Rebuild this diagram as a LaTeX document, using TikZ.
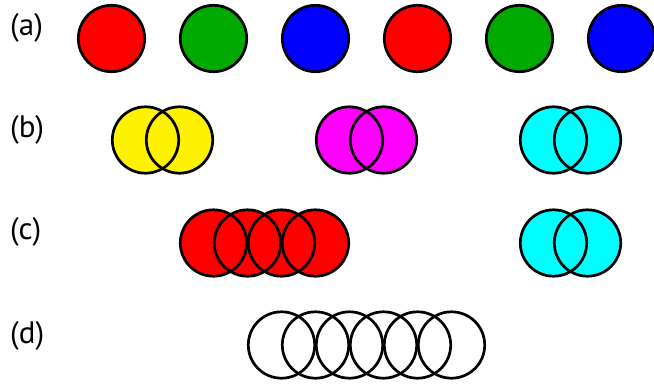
\documentclass[tikz,border=0pt]{standalone}
\usepackage{fontspec}
\setsansfont{PT Sans}
\usetikzlibrary{positioning}
\definecolor{discgreen}{RGB}{0,170,0}
\definecolor{discmagenta}{RGB}{255,0,255}
\definecolor{disccyan}{RGB}{0,255,255}

\begin{document}
\begin{tikzpicture}[
  x=1pt,y=-1pt,
  font=\sffamily\fontsize{31}{36}\selectfont,
  disc/.style={circle,inner sep=0pt,outer sep=0pt,minimum size=66.4pt},
  ring/.style={draw=black,line width=2.7pt},
  lbl/.style={anchor=west,inner sep=0pt},
  node distance=35.6pt,
]
\useasboundingbox (0,0) rectangle (654,389);
% row (a): single discs
\node[lbl] (la) at (10,28) {(a)};
\node[disc,fill=red] (a1) at (111.5,38.5) {};
\node[disc,fill=discgreen,right=of a1] (a2) {};
\node[disc,fill=blue,right=of a2] (a3) {};
\node[disc,fill=red,right=of a3] (a4) {};
\node[disc,fill=discgreen,right=of a4] (a5) {};
\node[disc,fill=blue,right=of a5] (a6) {};
% row (b): overlapping pairs
\node[lbl] (lb) at (10,130) {(b)};
\node[disc,fill=yellow] (b1) at (145.5,140) {};
\node[disc,fill=yellow,right=-32.4pt of b1] (b2) {};
\node[disc,fill=discmagenta] (b3) at (349.5,140) {};
\node[disc,fill=discmagenta,right=-32.4pt of b3] (b4) {};
\node[disc,fill=disccyan] (b5) at (553.5,140) {};
\node[disc,fill=disccyan,right=-32.4pt of b5] (b6) {};
% row (c)
\node[lbl] (lc) at (10,232) {(c)};
\node[disc,fill=red] (c1) at (213.5,243) {};
\node[disc,fill=red,right=-32.4pt of c1] (c2) {};
\node[disc,fill=red,right=-32.4pt of c2] (c3) {};
\node[disc,fill=red,right=-32.4pt of c3] (c4) {};
\node[disc,fill=disccyan] (c5) at (553.5,243) {};
\node[disc,fill=disccyan,right=-32.4pt of c5] (c6) {};
% row (d): empty rings
\node[lbl] (ld) at (10,336) {(d)};
\node[disc] (d1) at (281.5,345) {};
\node[disc,right=-32.4pt of d1] (d2) {};
\node[disc,right=-32.4pt of d2] (d3) {};
\node[disc,right=-32.4pt of d3] (d4) {};
\node[disc,right=-32.4pt of d4] (d5) {};
\node[disc,right=-32.4pt of d5] (d6) {};
% outlines on top of all fills
\foreach \n in {a1,a2,a3,a4,a5,a6,b1,b2,b3,b4,b5,b6,c1,c2,c3,c4,c5,c6,d1,d2,d3,d4,d5,d6}
  \draw[ring] (\n.center) circle[radius=33.2pt];
\end{tikzpicture}
\end{document}
